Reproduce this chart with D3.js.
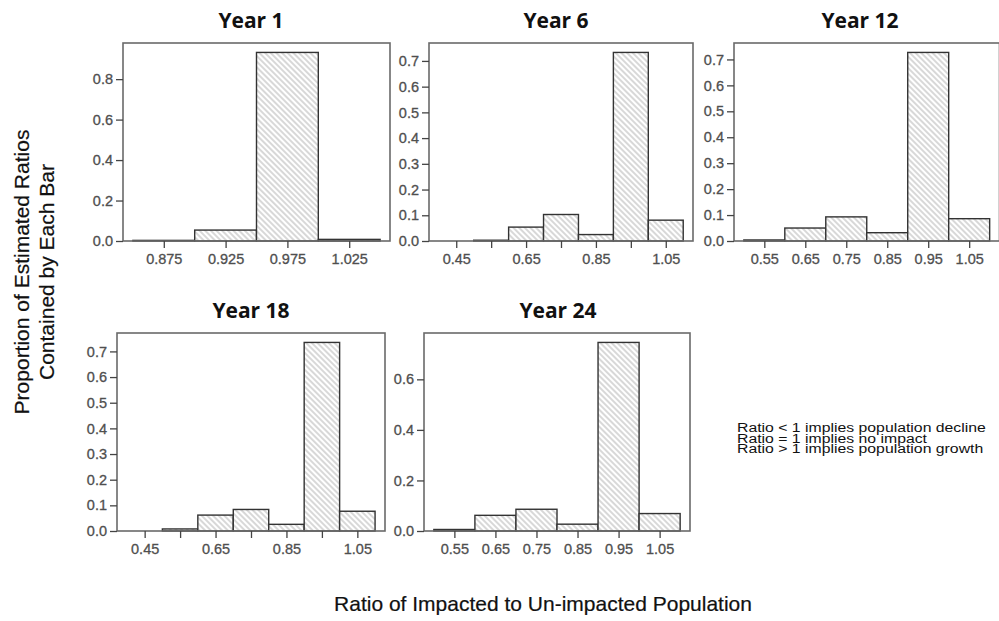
<!DOCTYPE html>
<html>
<head>
<meta charset="utf-8">
<script src="https://cdn.jsdelivr.net/npm/d3@7"></script>
<style>
  body { margin: 0; background: #fff; }
  svg { display: block; }
  .tick-label { font-family: "Liberation Sans", Arial, sans-serif; font-size: 14.5px; fill: #4f4f4f; stroke: #4f4f4f; stroke-width: 0.3px; }
  .panel-title { font-family: "Open Sans", sans-serif; font-weight: 700; font-size: 21px; fill: #111; }
  .axis-title { font-family: "Liberation Sans", Arial, sans-serif; font-size: 21px; fill: #111; stroke: #111; stroke-width: 0.2px; }
  .note { font-family: "Liberation Sans", Arial, sans-serif; font-size: 13.5px; fill: #111; }
</style>
</head>
<body>
<div id="chart"></div>
<script>
// histogram data
const panelTitles = ["Year 1", "Year 6", "Year 12", "Year 18", "Year 24"];

const edgesYear1 = [0.85, 0.90, 0.95, 1.00, 1.05];
const propsYear1 = [0.003, 0.054, 0.932, 0.008];

const edgesYear6 = [0.4, 0.5, 0.6, 0.7, 0.8, 0.9, 1.0, 1.1];
const propsYear6 = [0, 0.003, 0.054, 0.103, 0.025, 0.733, 0.081];

const edgesYear12 = [0.5, 0.6, 0.7, 0.8, 0.9, 1.0, 1.1];
const propsYear12 = [0.004, 0.050, 0.093, 0.032, 0.727, 0.086];

const edgesYear18 = [0.4, 0.5, 0.6, 0.7, 0.8, 0.9, 1.0, 1.1];
const propsYear18 = [0, 0.008, 0.062, 0.084, 0.026, 0.735, 0.077];

const edgesYear24 = [0.5, 0.6, 0.7, 0.8, 0.9, 1.0, 1.1];
const propsYear24 = [0.006, 0.062, 0.086, 0.027, 0.746, 0.069];

// tick values
const xTicksYear1 = [0.875, 0.925, 0.975, 1.025];
const xTicksWide = [0.45, 0.55, 0.65, 0.75, 0.85, 0.95, 1.05];
const xLabelsWide = [0.45, 0.65, 0.85, 1.05];
const xTicksNarrow = [0.55, 0.65, 0.75, 0.85, 0.95, 1.05];
const yTicksYear1 = [0, 0.2, 0.4, 0.6, 0.8];
const yTicksTenths = [0, 0.1, 0.2, 0.3, 0.4, 0.5, 0.6, 0.7];
const yTicksYear24 = [0, 0.2, 0.4, 0.6];

const noteLines = [
  "Ratio < 1 implies population decline",
  "Ratio = 1 implies no impact",
  "Ratio > 1 implies population growth"
];
const xAxisTitle = "Ratio of Impacted to Un-impacted Population";
const yAxisTitle = ["Proportion of Estimated Ratios", "Contained by Each Bar"];

// layout of the five plot boxes
const panels = [
  { edges: edgesYear1, props: propsYear1, xt: xTicksYear1, xl: xTicksYear1, yt: yTicksYear1, fmt: ".3f",
    x0: 123, x1: 390, y0: 43, y1: 241, tx: 251 },
  { edges: edgesYear6, props: propsYear6, xt: xTicksWide, xl: xLabelsWide, yt: yTicksTenths, fmt: ".2f",
    x0: 429, x1: 693, y0: 43, y1: 241, tx: 556 },
  { edges: edgesYear12, props: propsYear12, xt: xTicksNarrow, xl: xTicksNarrow, yt: yTicksTenths, fmt: ".2f",
    x0: 734, x1: 999.5, y0: 43, y1: 241, tx: 860 },
  { edges: edgesYear18, props: propsYear18, xt: xTicksWide, xl: xLabelsWide, yt: yTicksTenths, fmt: ".2f",
    x0: 117, x1: 385, y0: 333, y1: 531, tx: 251 },
  { edges: edgesYear24, props: propsYear24, xt: xTicksNarrow, xl: xTicksNarrow, yt: yTicksYear24, fmt: ".2f",
    x0: 424, x1: 690, y0: 333, y1: 531, tx: 558 }
];

const W = 999, H = 621;
const svg = d3.select("#chart").append("svg")
  .attr("width", W).attr("height", H);

svg.append("rect").attr("width", W).attr("height", H).attr("fill", "#fff");

// diagonal hatching for the bars
svg.append("defs").append("pattern")
  .attr("id", "hatch")
  .attr("patternUnits", "userSpaceOnUse")
  .attr("width", 4).attr("height", 4)
  .attr("patternTransform", "rotate(45)")
  .call(p => {
    p.append("rect").attr("width", 4).attr("height", 4).attr("fill", "#fff");
    p.append("line").attr("x1", 0).attr("y1", 2).attr("x2", 4).attr("y2", 2)
      .attr("stroke", "#b8b8b8").attr("stroke-width", 1.1);
  });

panels.forEach((p, i) => {
  const lo = p.edges[0], hi = p.edges[p.edges.length - 1];
  const pad = (hi - lo) * 0.04;
  const x = d3.scaleLinear().domain([lo - pad, hi + pad]).range([p.x0, p.x1]);
  const y = d3.scaleLinear().domain([0, d3.max(p.props) * 1.05]).range([p.y1, p.y0]);

  const bins = p.props.map((v, j) => ({ a: p.edges[j], b: p.edges[j + 1], v: v }));

  const g = svg.append("g");

  // bars
  g.selectAll("rect.bar").data(bins).enter().append("rect")
    .attr("class", "bar")
    .attr("x", d => x(d.a))
    .attr("width", d => x(d.b) - x(d.a))
    .attr("y", d => y(d.v))
    .attr("height", d => y(0) - y(d.v))
    .attr("fill", "url(#hatch)")
    .attr("stroke", "#333")
    .attr("stroke-width", 1.4);

  // plot box
  g.append("rect")
    .attr("x", p.x0).attr("y", p.y0)
    .attr("width", p.x1 - p.x0).attr("height", p.y1 - p.y0)
    .attr("fill", "none").attr("stroke", "#6a6a6a").attr("stroke-width", 1.6);

  // y axis
  const yAxis = d3.axisLeft(y).tickValues(p.yt).tickFormat(d3.format(".1f"))
    .tickSize(7).tickPadding(3).tickSizeOuter(0);
  const ya = g.append("g").attr("transform", "translate(" + p.x0 + ",0)").call(yAxis);
  ya.select(".domain").remove();
  ya.selectAll("line").attr("stroke", "#444").attr("stroke-width", 1.3);
  ya.selectAll("text").attr("class", "tick-label").attr("fill", null);

  // x axis
  const fmt = d3.format(p.fmt);
  const xAxis = d3.axisBottom(x).tickValues(p.xt)
    .tickFormat(d => p.xl.some(l => Math.abs(l - d) < 1e-9) ? fmt(d) : "")
    .tickSize(7).tickPadding(6).tickSizeOuter(0);
  const xa = g.append("g").attr("transform", "translate(0," + p.y1 + ")").call(xAxis);
  xa.select(".domain").remove();
  xa.selectAll("line").attr("stroke", "#444").attr("stroke-width", 1.3);
  xa.selectAll("text").attr("class", "tick-label").attr("fill", null);

  // title
  svg.append("text").attr("class", "panel-title")
    .attr("x", p.tx).attr("y", p.y0 - 15)
    .attr("text-anchor", "middle")
    .text(panelTitles[i]);
});

// drop d3's default font attributes so the css applies
svg.selectAll("g").attr("font-family", null).attr("font-size", null);

// axis titles
svg.append("text").attr("class", "axis-title")
  .attr("x", 543).attr("y", 611).attr("text-anchor", "middle")
  .text(xAxisTitle);

yAxisTitle.forEach((t, i) => {
  svg.append("text").attr("class", "axis-title")
    .attr("transform", "translate(" + (29 + i * 25) + ",272) rotate(-90)")
    .attr("text-anchor", "middle")
    .text(t);
});

// note block, lines set tight as in the original
noteLines.forEach((t, i) => {
  svg.append("text").attr("class", "note")
    .attr("transform", "translate(737," + (432 + i * 10.5) + ") scale(1.17,1)")
    .text(t);
});
</script>
</body>
</html>
